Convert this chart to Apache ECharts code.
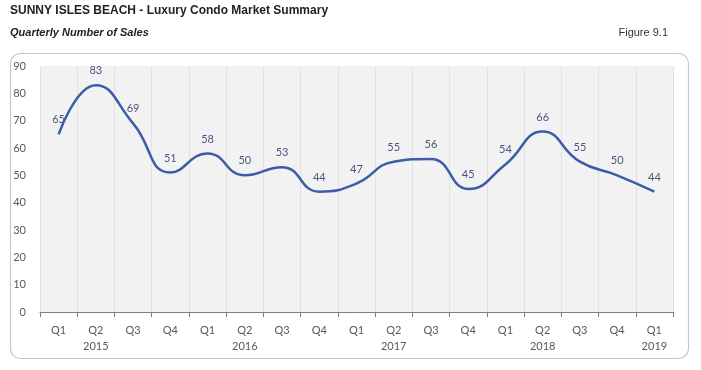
<!DOCTYPE html>
<html><head><meta charset="utf-8">
<script src="https://cdn.jsdelivr.net/npm/echarts@6/dist/echarts.min.js"></script>
<style>html,body{margin:0;padding:0;background:#fff}#c{width:701px;height:370px}</style>
</head><body><div id="c"></div>
<script>
const quarters = ['Q1','Q2','Q3','Q4','Q1','Q2','Q3','Q4','Q1','Q2','Q3','Q4','Q1','Q2','Q3','Q4','Q1'];
const years = ['','2015','','','','2016','','','','2017','','','','2018','','','2019'];
const sales = [65,83,69,51,58,50,53,44,47,55,56,45,54,66,55,50,44];
const yTicks = {min:0, max:90, interval:10};

const cats = quarters.map((q,i)=> years[i] ? q+'\n'+years[i] : q);
const chart = echarts.init(document.getElementById('c'));
chart.setOption({
  animation:false,
  graphic:[
    {type:'rect', shape:{x:10.5,y:53.5,width:678,height:305,r:10}, style:{fill:'none',stroke:'#c8c8c8',lineWidth:1.2}, z:-1},
    {type:'text', left:10, top:5, style:{text:'SUNNY ISLES BEACH - Luxury Condo Market Summary', font:'bold 12px "Liberation Sans", Arial', fill:'#222'}},
    {type:'text', left:10, top:27, style:{text:'Quarterly Number of Sales', font:'italic bold 11px "Liberation Sans", Arial', fill:'#222'}},
    {type:'text', right:33, top:27, style:{text:'Figure 9.1', font:'11px "Liberation Sans", Arial', fill:'#333'}}
  ],
  grid:{left:40, right:28, top:66, bottom:58, show:true, backgroundColor:'#f2f2f2', borderWidth:0},
  xAxis:{type:'category', data:cats, boundaryGap:true,
    axisLine:{lineStyle:{color:'#7f7f7f',width:1}},
    axisTick:{show:true, length:5, lineStyle:{color:'#7f7f7f'}},
    axisLabel:{color:'#595959', fontSize:11, fontFamily:'Lato', lineHeight:16, margin:10, interval:0},
    splitLine:{show:true, lineStyle:{color:'#e2e2e2', width:1}}
  },
  yAxis:{type:'value', min:yTicks.min, max:yTicks.max, interval:yTicks.interval,
    axisLine:{show:false}, axisTick:{show:false},
    axisLabel:{color:'#595959', fontSize:11, fontFamily:'Lato', margin:14},
    splitLine:{show:false}
  },
  series:[{type:'line', data:sales, smooth:0.5, symbol:'circle', symbolSize:2, showSymbol:true,
    itemStyle:{opacity:0},
    lineStyle:{color:'#3d5ca8', width:2.5},
    label:{show:true, position:'top', distance:8, color:'#4a5680', fontSize:11, fontFamily:'Lato', opacity:1}
  }]
});
</script></body></html>
